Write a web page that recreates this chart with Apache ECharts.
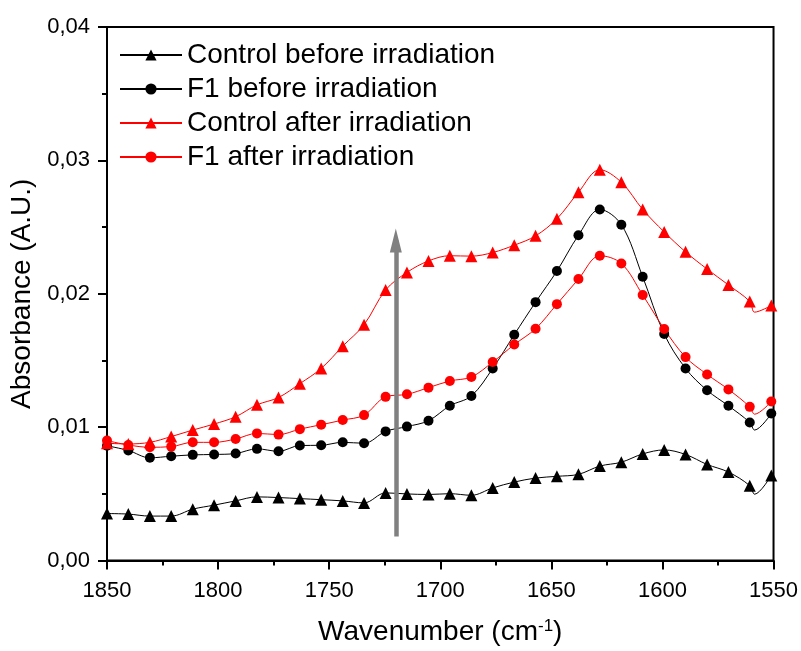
<!DOCTYPE html>
<html>
<head>
<meta charset="utf-8">
<script src="https://cdn.jsdelivr.net/npm/echarts@6/dist/echarts.min.js"></script>
<style>
  html, body { margin: 0; padding: 0; background: #fff; }
  #main { width: 801px; height: 651px; }
</style>
</head>
<body>
<div id="main"></div>
<script>
// wavenumbers of the sampled points (1558.5 is the dip without a marker)
var waveNumbers = [1850, 1840.4, 1830.7, 1821.1, 1811.4, 1801.8, 1792.1, 1782.5, 1772.8, 1763.2,
  1753.6, 1743.9, 1734.3, 1724.6, 1715.0, 1705.3, 1695.7, 1686.0, 1676.4, 1666.7,
  1657.1, 1647.5, 1637.8, 1628.2, 1618.5, 1608.9, 1599.2, 1589.6, 1579.9, 1570.3,
  1560.7, 1558.5, 1551.0];
var noMarkerAt = 1558.5;

var controlBefore = [0.00352, 0.00348, 0.00333, 0.00333, 0.00385, 0.00415, 0.00447, 0.00477, 0.00472, 0.00464,
  0.00456, 0.00447, 0.00432, 0.00507, 0.00499, 0.00495, 0.00501, 0.00489, 0.00544, 0.00588,
  0.00618, 0.00631, 0.00646, 0.00708, 0.00737, 0.00799, 0.00829, 0.00795, 0.00720, 0.00663,
  0.00561, 0.00497, 0.00638];
var f1Before = [0.00860, 0.00825, 0.00770, 0.00782, 0.00792, 0.00795, 0.00802, 0.00837, 0.00819, 0.00862,
  0.00864, 0.00886, 0.00879, 0.00968, 0.01004, 0.01048, 0.01160, 0.01234, 0.01440, 0.01693,
  0.01937, 0.02170, 0.02438, 0.02632, 0.02518, 0.02128, 0.01698, 0.01440, 0.01276, 0.01160,
  0.01035, 0.00978, 0.01102];
var controlAfter = [0.00879, 0.00874, 0.00886, 0.00929, 0.00978, 0.01023, 0.01078, 0.01167, 0.01222, 0.01326,
  0.01440, 0.01607, 0.01768, 0.02028, 0.02160, 0.02246, 0.02285, 0.02282, 0.02309, 0.02364,
  0.02434, 0.02562, 0.02761, 0.02930, 0.02836, 0.02632, 0.02463, 0.02314, 0.02185, 0.02066,
  0.01942, 0.01862, 0.01912];
var f1After = [0.00899, 0.00866, 0.00849, 0.00854, 0.00886, 0.00886, 0.00911, 0.00953, 0.00944, 0.00985,
  0.01018, 0.01053, 0.01090, 0.01227, 0.01246, 0.01296, 0.01346, 0.01376, 0.01488, 0.01619,
  0.01738, 0.01922, 0.02110, 0.02285, 0.02227, 0.01991, 0.01736, 0.01525, 0.01395, 0.01283,
  0.01152, 0.01097, 0.01192];

var seriesNames = ['Control before irradiation', 'F1 before irradiation', 'Control after irradiation', 'F1 after irradiation'];

// gray arrow: x position, bottom and top of the shaft
var arrowX = 1720;
var arrowFrom = 0.0018;
var arrowTo = 0.0240;

var FONT = 'Liberation Sans, Arial, sans-serif';

function buildData(values) {
  return waveNumbers.map(function (x, i) {
    var item = { value: [x, values[i]] };
    if (x === noMarkerAt) item.symbol = 'none';
    return item;
  });
}

function makeSeries(name, values, color, symbol, size) {
  return {
    name: name,
    type: 'line',
    data: buildData(values),
    smooth: 0.35,
    symbol: symbol,
    symbolSize: size,
    showAllSymbol: true,
    lineStyle: { color: color, width: 1 },
    itemStyle: { color: color },
    emphasis: { disabled: true },
    animation: false
  };
}

var myChart = echarts.init(document.getElementById('main'));

var series = [
  makeSeries(seriesNames[0], controlBefore, '#000000', 'triangle', 12),
  makeSeries(seriesNames[1], f1Before, '#000000', 'circle', 10),
  makeSeries(seriesNames[2], controlAfter, '#ff0000', 'triangle', 12),
  makeSeries(seriesNames[3], f1After, '#ff0000', 'circle', 10)
];

series[0].markLine = {
  silent: true,
  animation: false,
  symbol: ['none', 'triangle'],
  symbolSize: [12, 24],
  label: { show: false },
  lineStyle: { color: '#808080', width: 4.5, type: 'solid' },
  data: [[{ coord: [arrowX, arrowFrom] }, { coord: [arrowX, arrowTo] }]]
};

var option = {
  backgroundColor: '#fff',
  animation: false,
  grid: {
    left: 107, right: 26, top: 27, bottom: 87,
    show: true, borderColor: '#000', borderWidth: 2, backgroundColor: 'transparent'
  },
  legend: {
    orient: 'vertical',
    left: 114,
    top: 36,
    itemWidth: 62,
    itemHeight: 14,
    itemGap: 6,
    data: seriesNames,
    textStyle: { fontFamily: FONT, fontSize: 28, color: '#000', lineHeight: 28 }
  },
  xAxis: {
    type: 'value',
    inverse: true,
    min: 1550,
    max: 1850,
    interval: 50,
    name: 'Wavenumber (cm{sup|-1})',
    nameLocation: 'middle',
    nameGap: 57,
    nameTextStyle: {
      fontFamily: FONT, fontSize: 28, color: '#000',
      rich: { sup: { fontFamily: FONT, fontSize: 17, color: '#000', padding: [0, 0, 12, 0] } }
    },
    axisLine: { show: true, onZero: false, lineStyle: { color: '#000', width: 2 } },
    axisTick: { show: true, inside: false, length: 9, lineStyle: { color: '#000', width: 2 } },
    minorTick: { show: true, splitNumber: 2, length: 5, lineStyle: { color: '#000', width: 2 } },
    axisLabel: {
      fontFamily: FONT, fontSize: 22, color: '#000', margin: 19,
      formatter: function (v) { return String(v); }
    },
    splitLine: { show: false }
  },
  yAxis: {
    type: 'value',
    min: 0,
    max: 0.04,
    interval: 0.01,
    name: 'Absorbance (A.U.)',
    nameLocation: 'middle',
    nameGap: 53,
    nameTextStyle: { fontFamily: FONT, fontSize: 28, color: '#000' },
    axisLine: { show: true, onZero: false, lineStyle: { color: '#000', width: 2 } },
    axisTick: { show: true, inside: false, length: 9, lineStyle: { color: '#000', width: 2 } },
    minorTick: { show: true, splitNumber: 2, length: 5, lineStyle: { color: '#000', width: 2 } },
    axisLabel: {
      fontFamily: FONT, fontSize: 22, color: '#000', margin: 17,
      formatter: function (v) { return v.toFixed(2).replace('.', ','); }
    },
    splitLine: { show: false }
  },
  series: series
};

myChart.setOption(option);
</script>
</body>
</html>
